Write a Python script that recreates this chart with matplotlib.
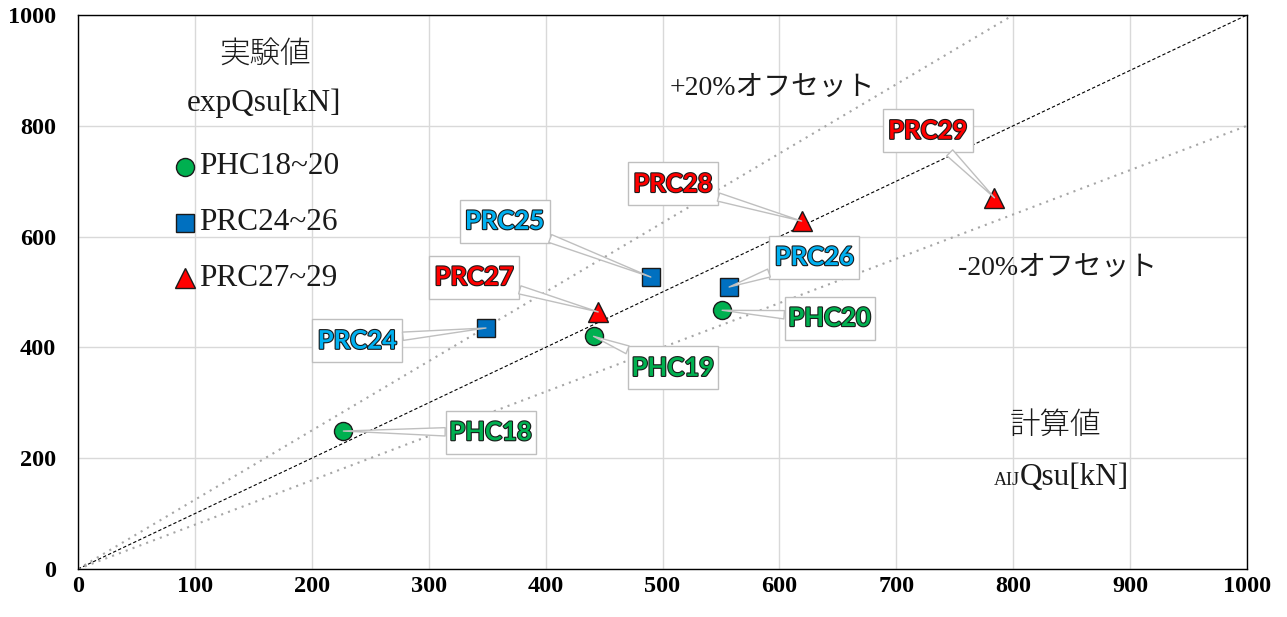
import matplotlib
matplotlib.use("Agg")
import matplotlib.pyplot as plt
import matplotlib.patheffects as pe
from matplotlib.patches import Rectangle

# ---- data ----
phc_names = ["PHC18", "PHC19", "PHC20"]
phc_calc = [227, 441, 551]
phc_exp = [249, 420, 467]

prc_a_names = ["PRC24", "PRC25", "PRC26"]
prc_a_calc = [349, 490, 557]
prc_a_exp = [435, 527, 509]

prc_b_names = ["PRC27", "PRC28", "PRC29"]
prc_b_calc = [445, 619, 784]
prc_b_exp = [464, 628, 670]

legend_labels = ["PHC18~20", "PRC24~26", "PRC27~29"]
ticks_x = list(range(0, 1001, 100))
ticks_y = list(range(0, 1001, 200))

# label positions (data coords)
label_pos = {
    "PHC18": (353, 247), "PHC19": (509, 363), "PHC20": (643, 453),
    "PRC24": (239, 412), "PRC25": (365, 628), "PRC26": (630, 563),
    "PRC27": (339, 527), "PRC28": (509, 695), "PRC29": (727, 791),
}

c_green = "#00B050"
c_blue = "#0070C0"
c_lblue = "#00B0F0"
c_red = "#FF0000"

fig = plt.figure(figsize=(12.87, 6.17), dpi=100)
ax = fig.add_axes([78/1287, 48/617, 1169/1287, 554/617])
ax.set_xlim(0, 1000)
ax.set_ylim(0, 1000)
ax.set_xticks(ticks_x)
ax.set_yticks(ticks_y)
ax.grid(True, color="#D9D9D9", lw=1)
ax.set_axisbelow(True)
ax.tick_params(axis="x", length=0, pad=5)
ax.tick_params(axis="y", length=0, pad=16)
for lab in ax.get_xticklabels() + ax.get_yticklabels():
    lab.set_fontfamily("Liberation Serif")
    lab.set_fontweight("bold")
    lab.set_fontsize(17.5)
for s in ax.spines.values():
    s.set_color("black")
    s.set_linewidth(1)

# reference lines
ax.plot([0, 1000], [0, 1000], ls=(0, (3, 2)), color="black", lw=0.8, zorder=2)
ax.plot([0, 800], [0, 1000], ls=(0, (1, 2.5)), color="#A6A6A6", lw=1.5, zorder=2)
ax.plot([0, 1000], [0, 800], ls=(0, (1, 2.5)), color="#A6A6A6", lw=1.5, zorder=2)

ax.plot(phc_calc, phc_exp, "o", ms=13, mfc=c_green, mec="#1a1a1a", mew=1, ls="none", zorder=5)
ax.plot(prc_a_calc, prc_a_exp, "s", ms=13, mfc=c_blue, mec="#1a1a1a", mew=1, ls="none", zorder=5)
ax.plot(prc_b_calc, prc_b_exp, "^", ms=15, mfc=c_red, mec="#1a1a1a", mew=1, ls="none", zorder=5)

box_w = 90 / 1169 * 1000
box_h = 43 / 554 * 1000

def callouts(names, xs, ys, color):
    for n, x, y in zip(names, xs, ys):
        tx, ty = label_pos[n]
        rect = Rectangle((tx - box_w / 2, ty - box_h / 2), box_w, box_h,
                         fc="white", ec="#BFBFBF", lw=1, zorder=6)
        ax.add_patch(rect)
        ax.annotate("", xy=(x, y), xytext=(tx, ty),
                    arrowprops=dict(arrowstyle="wedge,tail_width=0.6,shrink_factor=0.5",
                                    fc="white", ec="#BFBFBF", lw=1, shrinkA=0, shrinkB=0,
                                    patchA=rect),
                    zorder=6)
        ax.text(tx, ty, n, ha="center", va="center",
                fontsize=18.5, fontweight="bold", family="Lato", color=color,
                path_effects=[pe.withStroke(linewidth=1.6, foreground="#1a1a1a")],
                zorder=7)

callouts(phc_names, phc_calc, phc_exp, c_green)
callouts(prc_a_names, prc_a_calc, prc_a_exp, c_lblue)
callouts(prc_b_names, prc_b_calc, prc_b_exp, c_red)

serif = "Liberation Serif"
jp = ["Noto Sans CJK JP"]
mixed = ["Liberation Serif", "Noto Sans CJK JP"]

ax.text(160, 928, "実験値", ha="center", va="center", fontsize=22, family=jp, fontweight="light", color="#1a1a1a")
ax.text(159, 841, "expQsu[kN]", ha="center", va="center", fontsize=22.5, family=serif, color="#1a1a1a")

leg_y = [726, 625, 525]
leg_m = [("o", c_green, 13), ("s", c_blue, 13), ("^", c_red, 15)]
for (m, c, ms), yy, lab in zip(leg_m, leg_y, legend_labels):
    ax.plot([91.5], [yy], m, ms=ms, mfc=c, mec="#1a1a1a", mew=1, clip_on=False)
    ax.text(104, yy, lab, ha="left", va="center", fontsize=22.5, family=serif, color="#1a1a1a")

ax.text(594, 868, "+20%オフセット", ha="center", va="center", fontsize=20, family=mixed, color="#1a1a1a")
ax.text(838, 543, "-20%オフセット", ha="center", va="center", fontsize=20, family=mixed, color="#1a1a1a")
ax.text(836, 260, "計算値", ha="center", va="center", fontsize=22, family=jp, fontweight="light", color="#1a1a1a")
ax.text(806, 152, "AIJ", ha="right", va="baseline", fontsize=13, family=serif, color="#1a1a1a")
ax.text(806, 152, "Qsu[kN]", ha="left", va="baseline", fontsize=22.5, family=serif, color="#1a1a1a")

fig.savefig("out.png", dpi=100)
